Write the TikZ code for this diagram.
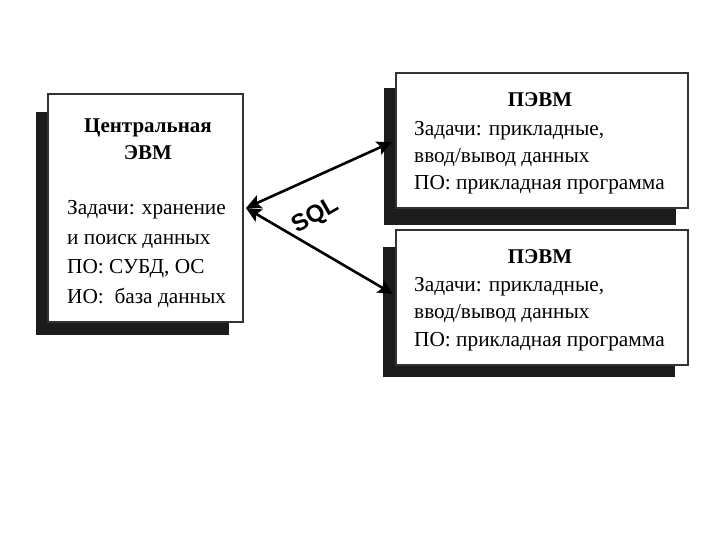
\documentclass[tikz,border=0pt]{standalone}
\usepackage{fontspec}
\setmainfont{Liberation Serif}
\newfontfamily\sqlfont{Liberation Sans}
\usetikzlibrary{arrows.meta}
\definecolor{shadowc}{HTML}{1C1C1C}
\definecolor{edgec}{HTML}{333333}
\tikzset{
  box/.style={draw=edgec, line width=1.3pt, fill=white, rectangle, inner sep=0pt},
  shade/.style={fill=shadowc, draw=none},
  txt/.style={anchor=base west, inner sep=0pt, font=\fontsize{21.3}{25}\selectfont},
  ttl/.style={anchor=base, inner sep=0pt, font=\fontsize{21}{25}\selectfont\bfseries},
  tip/.style={Stealth[length=15pt,width=14pt,inset=3pt]},
  link/.style={line width=2.6pt, {Stealth[length=15pt,width=14pt,inset=3pt]}-{Stealth[length=15pt,width=14pt,inset=3pt]}}
}
\begin{document}
\begin{tikzpicture}[x=1pt,y=1pt]
\useasboundingbox (0,0) rectangle (720,540);
% shadows
\fill[shade] (36,{540-112}) rectangle (229,{540-335});
\fill[shade] (384,{540-88}) rectangle (676,{540-225});
\fill[shade] (383,{540-247}) rectangle (675,{540-377});
% boxes
\node[box, minimum width=195pt, minimum height=228pt] (cent) at (145.5,{540-208}) {};
\node[box, minimum width=292pt, minimum height=135pt] (p1) at (542,{540-140.5}) {};
\node[box, minimum width=292pt, minimum height=135pt] (p2) at (542,{540-297.5}) {};
% central text
\node[ttl] (c0) at (148,{540-133}) {Центральная};
\node[ttl] (c1) at (148,{540-160}) {ЭВМ};
\node[txt] (c2) at (67,{540-215}) {Задачи: хранение};
\node[txt] (c3) at (67,{540-244.5}) {и поиск данных};
\node[txt] (c4) at (67,{540-274}) {ПО: СУБД, ОС};
\node[txt] (c5) at (67,{540-303.5}) {ИО:\ \ база данных};
% PC 1
\node[ttl] (a0) at (540,{540-107}) {ПЭВМ};
\node[txt] (a1) at (414,{540-136}) {Задачи: прикладные,};
\node[txt] (a2) at (414,{540-163}) {ввод/вывод данных};
\node[txt] (a3) at (414,{540-190}) {ПО: прикладная программа};
% PC 2
\node[ttl] (b0) at (540,{540-264}) {ПЭВМ};
\node[txt] (b1) at (414,{540-292}) {Задачи: прикладные,};
\node[txt] (b2) at (414,{540-319}) {ввод/вывод данных};
\node[txt] (b3) at (414,{540-347}) {ПО: прикладная программа};
% links
\coordinate (hub) at (246,{540-208});
\coordinate (e1) at (392,{540-142});
\coordinate (e2) at (393,{540-294});
\draw[link] (hub) -- (e1);
\draw[link] (hub) -- (e2);
\node[rotate=30, font=\sqlfont\bfseries\fontsize{24}{28}\selectfont, inner sep=0pt] (sql) at (316,{540-216}) {SQL};
\end{tikzpicture}
\end{document}
